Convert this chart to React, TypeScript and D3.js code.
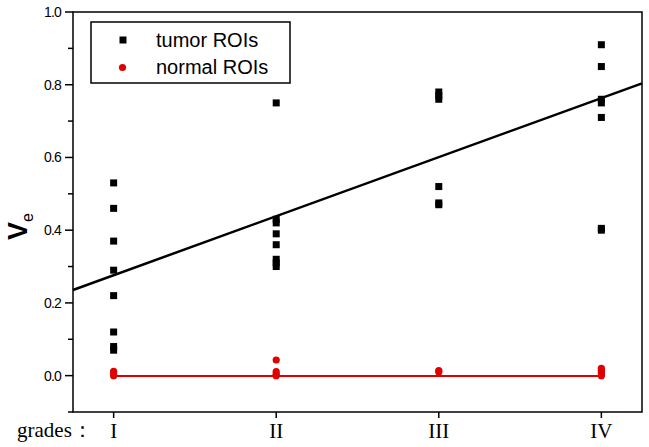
import React from "react";
import * as d3 from "d3";

const gradeLabels = ["I", "II", "III", "IV"];
const gradeValues = [1, 2, 3, 4];

const tumorI = [0.53, 0.46, 0.37, 0.29, 0.22, 0.12, 0.08, 0.07];
const tumorII = [0.75, 0.43, 0.42, 0.39, 0.36, 0.32, 0.31, 0.3];
const tumorIII = [0.78, 0.77, 0.76, 0.52, 0.47, 0.475];
const tumorIV = [0.91, 0.85, 0.76, 0.75, 0.71, 0.4, 0.405];

const normalI = [0.012, 0.005, 0.0];
const normalII = [0.043, 0.011, 0.004, 0.0];
const normalIII = [0.014, 0.01];
const normalIV = [0.02, 0.015, 0.01, 0.005, 0.0];

const yTicks = [0, 0.2, 0.4, 0.6, 0.8, 1.0];
const yMinorTicks = [-0.1, 0.1, 0.3, 0.5, 0.7, 0.9];

const fitSlope = 0.1624;
const fitIntercept = 0.1137;
const normalFitLevel = -0.001;

const W = 649;
const H = 447;
const L = 73, R = 642, T = 12, B = 412;

export default function App() {
  const x = d3.scaleLinear().domain([0.75, 4.25]).range([L, R]);
  const y = d3.scaleLinear().domain([-0.1, 1.0]).range([B, T]);
  const tumor = [tumorI, tumorII, tumorIII, tumorIV];
  const normal = [normalI, normalII, normalIII, normalIV];
  const line = d3.line<[number, number]>().x((d) => x(d[0])).y((d) => y(d[1]));
  const fitPts: [number, number][] = [0.75, 4.25].map((g) => [g, fitIntercept + fitSlope * g]);
  const normPts: [number, number][] = [1, 4].map((g) => [g, normalFitLevel]);
  const sq = 7;
  return (
    <svg width={W} height={H} style={{ position: "absolute", left: 0, top: 0, background: "#fff" }}>
      <rect x={0} y={0} width={W} height={H} fill="#fff" />
      <rect x={L} y={T} width={R - L} height={B - T} fill="none" stroke="#000" strokeWidth={1.5} />
      {yTicks.map((t) => (
        <g key={"y" + t}>
          <line x1={L - 8} x2={L} y1={y(t)} y2={y(t)} stroke="#000" strokeWidth={1.5} />
          <text x={L - 12} y={y(t) + 5} textAnchor="end" fontFamily="Arial, Liberation Sans, sans-serif" fontSize={14} letterSpacing={-0.8} fill="#000">
            {d3.format(".1f")(t)}
          </text>
        </g>
      ))}
      {yMinorTicks.map((t) => (
        <line key={"ym" + t} x1={L - 5} x2={L} y1={y(t)} y2={y(t)} stroke="#000" strokeWidth={1.5} />
      ))}
      {gradeValues.map((g, i) => (
        <g key={"x" + g}>
          <line x1={x(g)} x2={x(g)} y1={B} y2={B + 6} stroke="#000" strokeWidth={1.5} />
          <text x={x(g)} y={438} textAnchor="middle" fontFamily="Liberation Serif, Times New Roman, serif" fontSize={21} fill="#000">
            {gradeLabels[i]}
          </text>
        </g>
      ))}
      <text x={17} y={437} fontFamily="Liberation Serif, Times New Roman, serif" fontSize={21} fill="#000">
        grades：
      </text>
      <text transform="translate(27,240) rotate(-90)" fontFamily="Arial, Liberation Sans, sans-serif" fontWeight="bold" fontSize={27} fill="#000">
        V
        <tspan fontSize={16} dy={6} fontWeight="normal">e</tspan>
      </text>
      <path d={line(fitPts) || ""} stroke="#000" strokeWidth={2.5} fill="none" />
      <path d={line(normPts) || ""} stroke="#e00000" strokeWidth={2} fill="none" />
      {tumor.map((vals, i) =>
        vals.map((v, j) => (
          <rect key={"t" + i + "-" + j} x={x(gradeValues[i]) - sq / 2} y={y(v) - sq / 2} width={sq} height={sq} fill="#000" />
        ))
      )}
      {normal.map((vals, i) =>
        vals.map((v, j) => (
          <circle key={"n" + i + "-" + j} cx={x(gradeValues[i])} cy={y(v)} r={3.6} fill="#e00000" />
        ))
      )}
      <rect x={91} y={22} width={199} height={61} fill="#fff" stroke="#000" strokeWidth={1.5} />
      <rect x={123 - sq / 2} y={40 - sq / 2} width={sq} height={sq} fill="#000" />
      <circle cx={122.5} cy={67.5} r={3.6} fill="#e00000" />
      <text x={156} y={47} fontFamily="Arial, Liberation Sans, sans-serif" fontSize={20} fill="#000">tumor ROIs</text>
      <text x={156} y={74} fontFamily="Arial, Liberation Sans, sans-serif" fontSize={20} fill="#000">normal ROIs</text>
    </svg>
  );
}
